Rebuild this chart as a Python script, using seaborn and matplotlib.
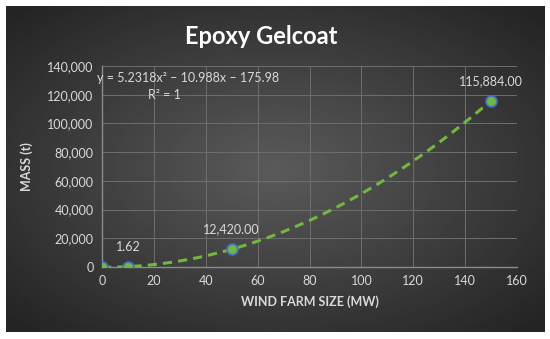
import numpy as np
import pandas as pd
import seaborn as sns
from matplotlib import pyplot as plt

# wind farm size (MW) vs epoxy gelcoat mass (t)
farm_size = [0, 10, 50, 150]
mass = [0, 1.62, 12420, 115884]
point_labels = ["", "1.62", "12,420.00", "115,884.00"]
trend_coef = [5.2318, -10.988, -175.98]
x_ticks = [0, 20, 40, 60, 80, 100, 120, 140, 160]
y_ticks = [0, 20000, 40000, 60000, 80000, 100000, 120000, 140000]

df = pd.DataFrame({"size": farm_size, "mass": mass})
xs = np.linspace(min(farm_size), max(farm_size), 200)
trend = pd.DataFrame({"size": xs, "mass": np.polyval(trend_coef, xs)})

sns.set_style("dark")
plt.rcParams["font.family"] = ["Lato", "DejaVu Sans"]

fig = plt.figure(figsize=(5.5, 3.39), dpi=100)
fig.patch.set_facecolor("white")

# dark radial gradient panel behind the chart
bg = fig.add_axes([6 / 550, 7 / 339, 539 / 550, 326 / 339])
gx, gy = np.meshgrid(np.linspace(-1, 1, 400), np.linspace(-1, 1, 250))
r = np.clip(np.sqrt(gx ** 2 + gy ** 2) / 1.35, 0, 1)
shade = 0.355 - 0.21 * r
bg.imshow(shade, cmap="gray", vmin=0, vmax=1, aspect="auto", extent=[0, 1, 0, 1])
bg.set_axis_off()

ax = fig.add_axes([102 / 550, 72 / 339, 415 / 550, 201 / 339])
ax.set_facecolor("none")

sns.lineplot(data=trend, x="size", y="mass", ax=ax, color="#72b73f",
             linewidth=2.2, linestyle=(0, (3, 2)), zorder=3)
sns.scatterplot(data=df, x="size", y="mass", ax=ax, color="#72b73f",
                edgecolor="#4472c4", linewidth=1.3, s=60, zorder=4)

for xv, yv, lab in zip(farm_size, mass, point_labels):
    if lab:
        ax.annotate(lab, (xv, yv), xytext=(0, 10), textcoords="offset points",
                    ha="center", va="bottom", color="#d9d9d9", fontsize=9)

ax.set_xlim(0, 160)
ax.set_ylim(0, 140000)
ax.set_xticks(x_ticks)
ax.set_yticks(y_ticks)
ax.set_yticklabels([f"{v:,}" for v in y_ticks])
ax.tick_params(colors="#d9d9d9", labelsize=9, length=0, pad=6)
ax.grid(True, color="#6e6e6e", linewidth=0.7)
for s in ["top", "right"]:
    ax.spines[s].set_visible(False)
for s in ["left", "bottom"]:
    ax.spines[s].set_color("#8c8c8c")
    ax.spines[s].set_linewidth(1)

ax.set_xlabel("WIND FARM SIZE (MW)", color="#d9d9d9", fontsize=9,
              fontweight="bold", labelpad=6)
ax.set_ylabel("MASS (t)", color="#d9d9d9", fontsize=9,
              fontweight="bold", labelpad=10)

ax.text(-2, 135500, "y = 5.2318x\u00b2 \u2013 10.988x \u2013 175.98",
        color="#d9d9d9", fontsize=9, va="top", ha="left")
ax.text(24, 124000, "R\u00b2 = 1", color="#d9d9d9", fontsize=9,
        va="top", ha="center")

fig.text(261 / 550, 1 - 36 / 339, "Epoxy Gelcoat", color="white",
         fontsize=17, fontweight="bold", ha="center", va="center")

fig.savefig("out.png", dpi=100)
